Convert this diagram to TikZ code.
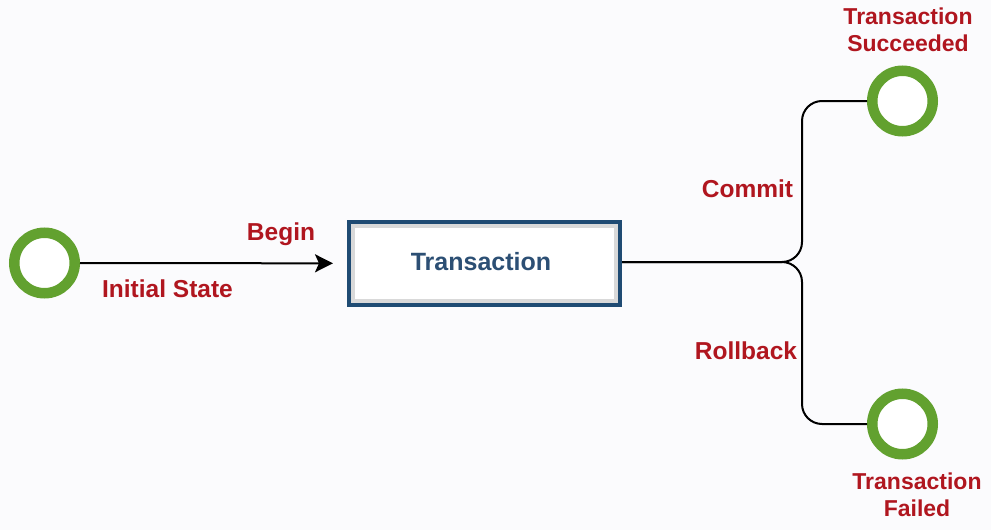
\documentclass[tikz,border=0pt]{standalone}
\usepackage{fontspec}
\setmainfont{Liberation Sans}
\usetikzlibrary{arrows.meta,calc}
\definecolor{ringgreen}{HTML}{62A12F}
\definecolor{lblred}{HTML}{B0161F}
\definecolor{boxblue}{HTML}{1F4B73}
\definecolor{txtblue}{HTML}{2C4F74}
\definecolor{bgc}{HTML}{FBFBFD}
\tikzset{
  state/.style={circle, draw=ringgreen, line width=10.5pt, fill=white, minimum size=60.5pt, inner sep=0pt},
  lbl/.style={text=lblred, font=\bfseries\fontsize{24.5}{28}\selectfont, inner sep=0pt},
  lbltwo/.style={text=lblred, font=\bfseries\fontsize{23}{26.5}\selectfont, align=center, inner sep=0pt},
  conn/.style={line width=2pt, black, rounded corners=20pt},
}
\begin{document}
\begin{tikzpicture}[x=1pt,y=-1pt]
\fill[bgc] (0,0) rectangle (991,530);
\useasboundingbox (0,0) rectangle (991,530);
% states
\node[state] (init) at (44.5,263) {};
\node[state] (succ) at (902.5,101) {};
\node[state] (fail) at (902.5,424) {};
% transaction box
\node[draw=boxblue, line width=7pt, fill=white, minimum width=268pt, minimum height=80pt, inner sep=0pt] (tx) at (484.5,263.5) {};
\draw[gray!30, line width=4pt] ($(tx.north west)+(6,6)$) rectangle ($(tx.south east)+(-6,-6)$);
\node[text=txtblue, font=\bfseries\fontsize{25}{28}\selectfont, anchor=base, inner sep=0pt] at (481,270) {Transaction};
% connectors
\draw[line width=2pt, -{Stealth[length=18pt,width=18pt,inset=4pt]}, shorten >=14pt] (init) -- (tx);
\coordinate (bend) at (802,262);
\draw[conn] (tx.east |- bend) -- (bend) |- (succ.west);
\draw[conn] (tx.east |- bend) -- (bend) |- (fail.west);
% labels
\node[lbl, anchor=base] (lbegin) at (281,240) {Begin};
\node[lbl, anchor=base] (linit) at (167.5,297) {Initial State};
\node[lbl, anchor=base] (lcommit) at (747.5,197) {Commit};
\node[lbl, anchor=base] (lroll) at (746,359) {Rollback};
\node[lbltwo] (lsucc) at (908,30) {Transaction\\Succeeded};
\node[lbltwo] (lfail) at (917,495) {Transaction\\Failed};
\end{tikzpicture}
\end{document}
